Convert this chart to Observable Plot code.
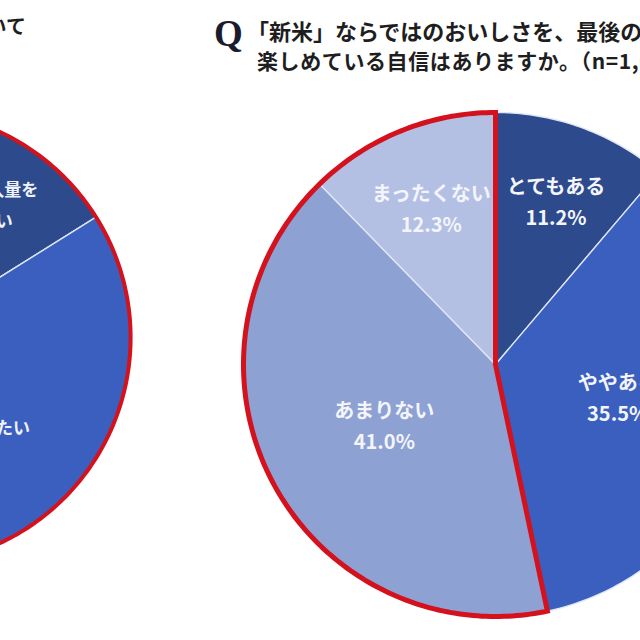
<!DOCTYPE html>
<html>
<head>
<meta charset="utf-8">
<script src="https://cdn.jsdelivr.net/npm/d3@7"></script>
<script src="https://cdn.jsdelivr.net/npm/@observablehq/plot@0.6"></script>
<style>
html, body { margin: 0; padding: 0; background: #fff; }
#wrap { position: relative; width: 640px; height: 640px; overflow: hidden; background: #fff; font-family: "Noto Sans CJK JP", "Noto Sans", sans-serif; }
.t { position: absolute; white-space: nowrap; font-weight: bold; color: #1e1e1e; line-height: 1; }
#chart { position: absolute; left: 0; top: 95px; width: 640px; height: 545px; overflow: hidden; }
</style>
</head>
<body>
<div id="wrap">
  <div class="t" id="leftTitle" style="right:614px; top:16px; font-size:20px;"></div>
  <div class="t" id="q" style="left:214px; top:15px; font-size:37px; font-family:'Liberation Serif', serif; color:#1b1b2e;">Q</div>
  <div class="t" id="title1" style="left:247px; top:19px; font-size:22px;"></div>
  <div class="t" id="title2" style="left:257px; top:50px; font-size:21px; letter-spacing:0.6px;"></div>
  <div id="chart"></div>
</div>
<script>
// ---- data ----
const leftTitleText = "今年の新米の購入について";
const titleLine1 = "「新米」ならではのおいしさを、最後の一粒まで";
const titleLine2 = "楽しめている自信はありますか。（n=1,000）";

const rightCategories = ["とてもある", "ややある", "あまりない", "まったくない"];
const rightValues = [11.2, 35.5, 41.0, 12.3];
const redGroup = ["あまりない", "まったくない"];

const leftCategories = ["例年より購入量を\n増やしたい", "同じ量を購入したい", "購入量を減らしたい"];
const leftValues = [16.1, 53.3, 30.6];

// ---- styles ----
const rightPalette = ["#2c4a8c", "#3a5fbe", "#8ea1d3", "#b4c0e3"];
const leftPalette = ["#2c4a8c", "#3a5fbe", "#8ea1d3"];
const red = "#d3121d";
const sep = "#dfe7f7";

document.getElementById("leftTitle").textContent = leftTitleText;
document.getElementById("title1").textContent = titleLine1;
document.getElementById("title2").textContent = titleLine2;

// ---- layout ----
const W = 640, H = 545, PX = 252;           // pixels per pie unit
const right = {cx: 0, cy: 0, r: 1};
const left = {cx: -2.349, cy: 0.107, r: 0.901};

function slices(cats, vals, g, pie) {
  const total = d3.sum(vals);
  let a = 0;
  return cats.map((c, i) => {
    const a0 = a; a += vals[i] / total * 360;
    return {pie, category: c, value: vals[i], a0, a1: a, ...g};
  });
}
const rad = d => d * Math.PI / 180;
function pt(g, r, a) { return [g.cx + r * Math.sin(rad(a)), g.cy + r * Math.cos(rad(a))]; }
function wedge(g, a0, a1, key, category, withCenter = true) {
  const out = [];
  if (withCenter) out.push({key, category, x: g.cx, y: g.cy});
  const n = Math.max(2, Math.ceil(a1 - a0));
  for (let k = 0; k <= n; k++) {
    const [x, y] = pt(g, g.r, a0 + (a1 - a0) * k / n);
    out.push({key, category, x, y});
  }
  return out;
}

const rS = slices(rightCategories, rightValues, right, "R");
const lS = slices(leftCategories, leftValues, left, "L");

const slicePts = [...lS, ...rS].flatMap(s => wedge(s, s.a0, s.a1, s.pie + s.category, s.category));

const redSlices = rS.filter(s => redGroup.includes(s.category));
const redPts = wedge(right, d3.min(redSlices, s => s.a0), d3.max(redSlices, s => s.a1), "red", "red");
const ringPts = wedge(left, 0, 360, "ring", "ring", false);

function labels(S) {
  return S.map(s => {
    const frac = 0.5 + 0.2 * Math.max(0, Math.min(1, (22 - s.value) / 11));
    const [x, y] = pt(s, frac * s.r, (s.a0 + s.a1) / 2);
    return {x, y, text: s.category + "\n" + s.value.toFixed(1) + "%"};
  });
}

const chart = Plot.plot({
  width: W, height: H, margin: 0,
  x: {domain: [-495 / PX, 145 / PX], axis: null},
  y: {domain: [-(H - 269) / PX, 269 / PX], axis: null},
  color: {domain: [...leftCategories, ...rightCategories], range: [...leftPalette, ...rightPalette]},
  style: {fontFamily: "'Noto Sans CJK JP', sans-serif", overflow: "hidden", background: "white"},
  marks: [
    Plot.line(slicePts, {x: "x", y: "y", z: "key", fill: "category", stroke: sep, strokeWidth: 1.4, curve: "linear-closed"}),
    Plot.line(ringPts, {x: "x", y: "y", stroke: red, strokeWidth: 4, curve: "linear-closed"}),
    Plot.line(redPts, {x: "x", y: "y", stroke: red, strokeWidth: 5, curve: "linear-closed", strokeLinejoin: "miter", strokeMiterlimit: 10}),
    Plot.text(labels(rS), {x: "x", y: "y", text: "text", fill: "#f3f5fb", fontSize: 20, fontWeight: "bold", lineHeight: 1.55}),
    Plot.text(labels(lS), {x: "x", y: "y", text: "text", fill: "#eef2fa", fontSize: 17, fontWeight: "bold", lineHeight: 1.8})
  ]
});
document.getElementById("chart").appendChild(chart);
</script>
</body>
</html>
